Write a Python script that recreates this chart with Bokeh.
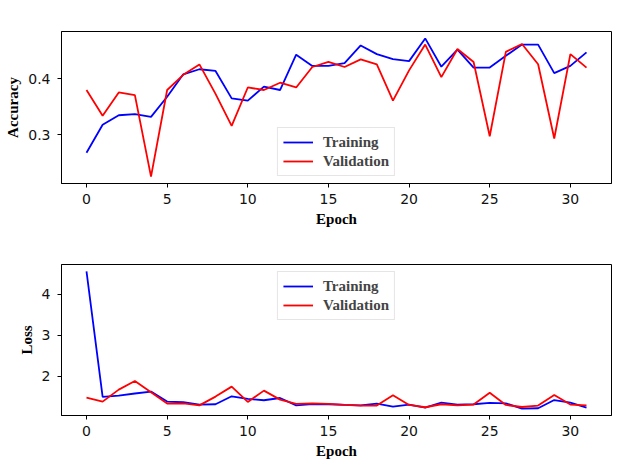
from bokeh.plotting import figure
from bokeh.layouts import column
from bokeh.models import Range1d, FixedTicker, Legend, LegendItem
from bokeh.embed import file_html
from bokeh.resources import INLINE

epochs = list(range(32))
train_acc = [0.268, 0.318, 0.335, 0.337, 0.332, 0.368, 0.408, 0.417, 0.414, 0.365, 0.361,
             0.386, 0.380, 0.443, 0.423, 0.423, 0.428, 0.4595, 0.444, 0.435, 0.4315, 0.472,
             0.4215, 0.452, 0.420, 0.420, 0.441, 0.461, 0.461, 0.410, 0.423, 0.447]
val_acc = [0.380, 0.334, 0.3756, 0.371, 0.2256, 0.380, 0.407, 0.4256, 0.373, 0.316, 0.3845,
           0.380, 0.393, 0.3845, 0.421, 0.430, 0.421, 0.4345, 0.4256, 0.361, 0.415, 0.461,
           0.403, 0.453, 0.430, 0.2976, 0.448, 0.462, 0.426, 0.2935, 0.444, 0.420]
train_loss = [4.565, 1.496, 1.53, 1.58, 1.626, 1.382, 1.366, 1.309, 1.317, 1.512, 1.447,
              1.415, 1.47, 1.29, 1.32, 1.317, 1.30, 1.29, 1.333, 1.26, 1.31, 1.236,
              1.357, 1.31, 1.317, 1.35, 1.34, 1.21, 1.22, 1.42, 1.357, 1.236]
val_loss = [1.48, 1.382, 1.675, 1.886, 1.61, 1.333, 1.34, 1.29, 1.504, 1.748, 1.374,
            1.65, 1.43, 1.325, 1.34, 1.325, 1.30, 1.285, 1.285, 1.537, 1.30, 1.244,
            1.317, 1.29, 1.31, 1.60, 1.30, 1.25, 1.285, 1.545, 1.31, 1.29]
x_ticks = [0, 5, 10, 15, 20, 25, 30]
acc_ticks = [0.3, 0.4]
loss_ticks = [2, 3, 4]
labels = ["Training", "Validation"]


def padded(vals, frac=0.05):
    lo, hi = min(vals), max(vals)
    span = hi - lo
    return lo - frac * span, hi + frac * span


def make(ys_a, ys_b, ylabel, yticks, legend_loc, top_b, bottom_b, h):
    xlo, xhi = padded(epochs)
    ylo, yhi = padded(ys_a + ys_b)
    p = figure(width=613, height=h, output_backend="svg", toolbar_location=None,
               x_range=Range1d(xlo, xhi), y_range=Range1d(ylo, yhi),
               min_border_left=61, min_border_right=2,
               min_border_top=top_b, min_border_bottom=bottom_b)
    p.xgrid.visible = False
    p.ygrid.visible = False
    p.outline_line_color = "black"
    p.outline_line_alpha = 1
    p.outline_line_width = 1
    p.background_fill_color = "white"
    p.border_fill_color = "white"
    r1 = p.line(epochs, ys_a, line_color="#0000ff", line_width=1.8)
    r2 = p.line(epochs, ys_b, line_color="#ff0000", line_width=1.8)
    p.xaxis.ticker = FixedTicker(ticks=x_ticks)
    p.yaxis.ticker = FixedTicker(ticks=yticks)
    for ax in (p.xaxis[0], p.yaxis[0]):
        ax.major_tick_in = 0
        ax.major_tick_out = 4
        ax.minor_tick_line_color = None
        ax.axis_line_color = "black"
        ax.major_tick_line_color = "black"
        ax.major_label_text_font = "DejaVu Sans"
        ax.major_label_text_font_size = "14px"
        ax.major_label_text_color = "#111111"
        ax.axis_label_text_font = "Liberation Serif"
        ax.axis_label_text_font_style = "bold"
        ax.axis_label_text_font_size = "15px"
        ax.axis_label_text_color = "black"
    p.xaxis.axis_label = "Epoch"
    p.yaxis.axis_label = ylabel
    p.xaxis.major_label_standoff = 6
    p.xaxis.axis_label_standoff = 4
    p.yaxis.major_label_standoff = 7
    p.yaxis.axis_label_standoff = 4
    leg = Legend(items=[LegendItem(label=labels[0], renderers=[r1]),
                        LegendItem(label=labels[1], renderers=[r2])],
                 location=legend_loc, margin=7, padding=5, spacing=1,
                 label_height=18, glyph_height=18, glyph_width=30,
                 label_standoff=10,
                 label_text_font="Liberation Serif", label_text_font_style="bold",
                 label_text_font_size="15px",
                 border_line_color="#cccccc", border_line_width=1,
                 background_fill_color="white", background_fill_alpha=0.8)
    p.add_layout(leg, "center")
    return p


p1 = make(train_acc, val_acc, "Accuracy", acc_ticks, "bottom_center", 31, 55, 238)
p2 = make(train_loss, val_loss, "Loss", loss_ticks, "top_center", 26, 45, 223)

layout = column(p1, p2, spacing=0)
open("out.html", "w").write(file_html(layout, INLINE))
